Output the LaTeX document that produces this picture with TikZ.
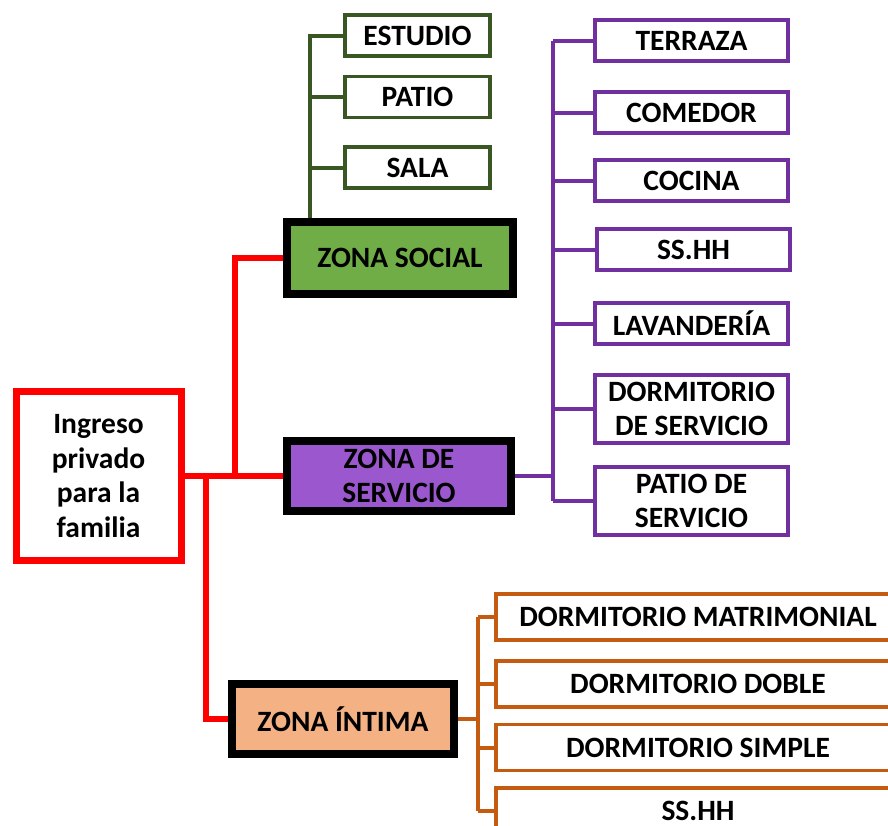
\documentclass[tikz,border=0pt]{standalone}
\usepackage{fontspec}
\setmainfont{Carlito}
\usepackage{tikz}
\usepackage{xcolor}
\usetikzlibrary{positioning, calc, backgrounds}
\definecolor{rootred}{RGB}{255, 0, 0}
\definecolor{socialfill}{RGB}{112, 173, 71}
\definecolor{socialline}{RGB}{56, 87, 35}
\definecolor{servfill}{RGB}{155, 87, 205}
\definecolor{servline}{RGB}{112, 48, 160}
\definecolor{intimafill}{RGB}{244, 177, 131}
\definecolor{intimaline}{RGB}{197, 90, 17}
\tikzset{
    txt/.style={align=center, font=\fontsize{29.5}{34.5}\selectfont\bfseries, text=black, inner sep=0pt},
    rootbox/.style={txt, rectangle, draw=rootred, line width=7pt, fill=white},
    zone/.style={txt, rectangle, draw=black, line width=8pt},
    item/.style={txt, rectangle, line width=3.5pt, fill=white},
    redlink/.style={rootred, line width=6pt},
    sublink/.style={line width=4pt}
}
\begin{document}
\begin{tikzpicture}[x=1pt, y=-1pt]
        \useasboundingbox (0,0) rectangle (888,825);
        \node[rootbox, minimum width=165pt, minimum height=169pt] (ingreso) at (98.5,476) {Ingreso\\privado\\para la\\familia};
        \node[zone, fill=socialfill, minimum width=226pt, minimum height=72pt] (social) at (400,258) {ZONA SOCIAL};
        \node[zone, fill=servfill, minimum width=224pt, minimum height=70pt] (servicio) at (399,476) {ZONA DE\\SERVICIO};
        \node[zone, fill=intimafill, minimum width=222pt, minimum height=70pt] (intima) at (343,719) {ZONA ÍNTIMA};

        \node[item, draw=socialline, minimum width=145pt, minimum height=41pt] (estudio) at (417.5,35.5) {ESTUDIO};
        \node[item, draw=socialline, minimum width=145pt, minimum height=41pt] (patio) at (417.5,97) {PATIO};
        \node[item, draw=socialline, minimum width=145pt, minimum height=41pt] (sala) at (417.5,167.5) {SALA};

        \node[item, draw=servline, minimum width=193pt, minimum height=41pt] (terraza) at (691.5,40.5) {TERRAZA};
        \node[item, draw=servline, minimum width=193pt, minimum height=41pt] (comedor) at (691.5,112.5) {COMEDOR};
        \node[item, draw=servline, minimum width=193pt, minimum height=41pt] (cocina) at (691.5,180.5) {COCINA};
        \node[item, draw=servline, minimum width=193pt, minimum height=41pt] (sshh) at (693.5,249.5) {SS.HH};
        \node[item, draw=servline, minimum width=193pt, minimum height=41pt] (lavanderia) at (691.5,323.5) {LAVANDERÍA};
        \node[item, draw=servline, minimum width=193pt, minimum height=68pt] (dormserv) at (691.5,409) {DORMITORIO\\DE SERVICIO};
        \node[item, draw=servline, minimum width=193pt, minimum height=68pt] (patioserv) at (691.5,501) {PATIO DE\\SERVICIO};

        \node[item, draw=intimaline, minimum width=404pt, minimum height=46pt] (matrimonial) at (698,617) {DORMITORIO MATRIMONIAL};
        \node[item, draw=intimaline, minimum width=404pt, minimum height=46pt] (doble) at (698,684) {DORMITORIO DOBLE};
        \node[item, draw=intimaline, minimum width=404pt, minimum height=46pt] (simple) at (698,747.5) {DORMITORIO SIMPLE};
        \node[item, draw=intimaline, minimum width=404pt, minimum height=46pt] (sshhb) at (698,811) {SS.HH};

        \coordinate (upj) at (235,476);
        \coordinate (downj) at (206,476);
        \coordinate (greenj) at (310,222);
        \coordinate (purplej) at (553,476);
        \coordinate (orangej) at (478,719);

        \begin{pgfonlayer}{background}
        \draw[redlink] (ingreso.east) -- (servicio.west);
        \draw[redlink] (upj) |- (social.west);
        \draw[redlink] (downj) |- (intima.west);

        \draw[sublink, socialline] (estudio.west) -| (greenj);
        \foreach \n in {patio, sala}
            \draw[sublink, socialline] (\n.west) -- (\n.west -| greenj);

        \draw[sublink, servline] (servicio.east) -- (purplej);
        \draw[sublink, servline] (terraza.west -| purplej) -- (patioserv.west -| purplej);
        \foreach \n in {terraza, comedor, cocina, sshh, lavanderia, dormserv, patioserv}
            \draw[sublink, servline] (\n.west) -- (\n.west -| purplej);

        \draw[sublink, intimaline] (intima.east) -- (orangej);
        \draw[sublink, intimaline] (matrimonial.west -| orangej) -- (sshhb.west -| orangej);
        \foreach \n in {matrimonial, doble, simple, sshhb}
            \draw[sublink, intimaline] (\n.west) -- (\n.west -| orangej);
        \end{pgfonlayer}
    \end{tikzpicture}
\end{document}
